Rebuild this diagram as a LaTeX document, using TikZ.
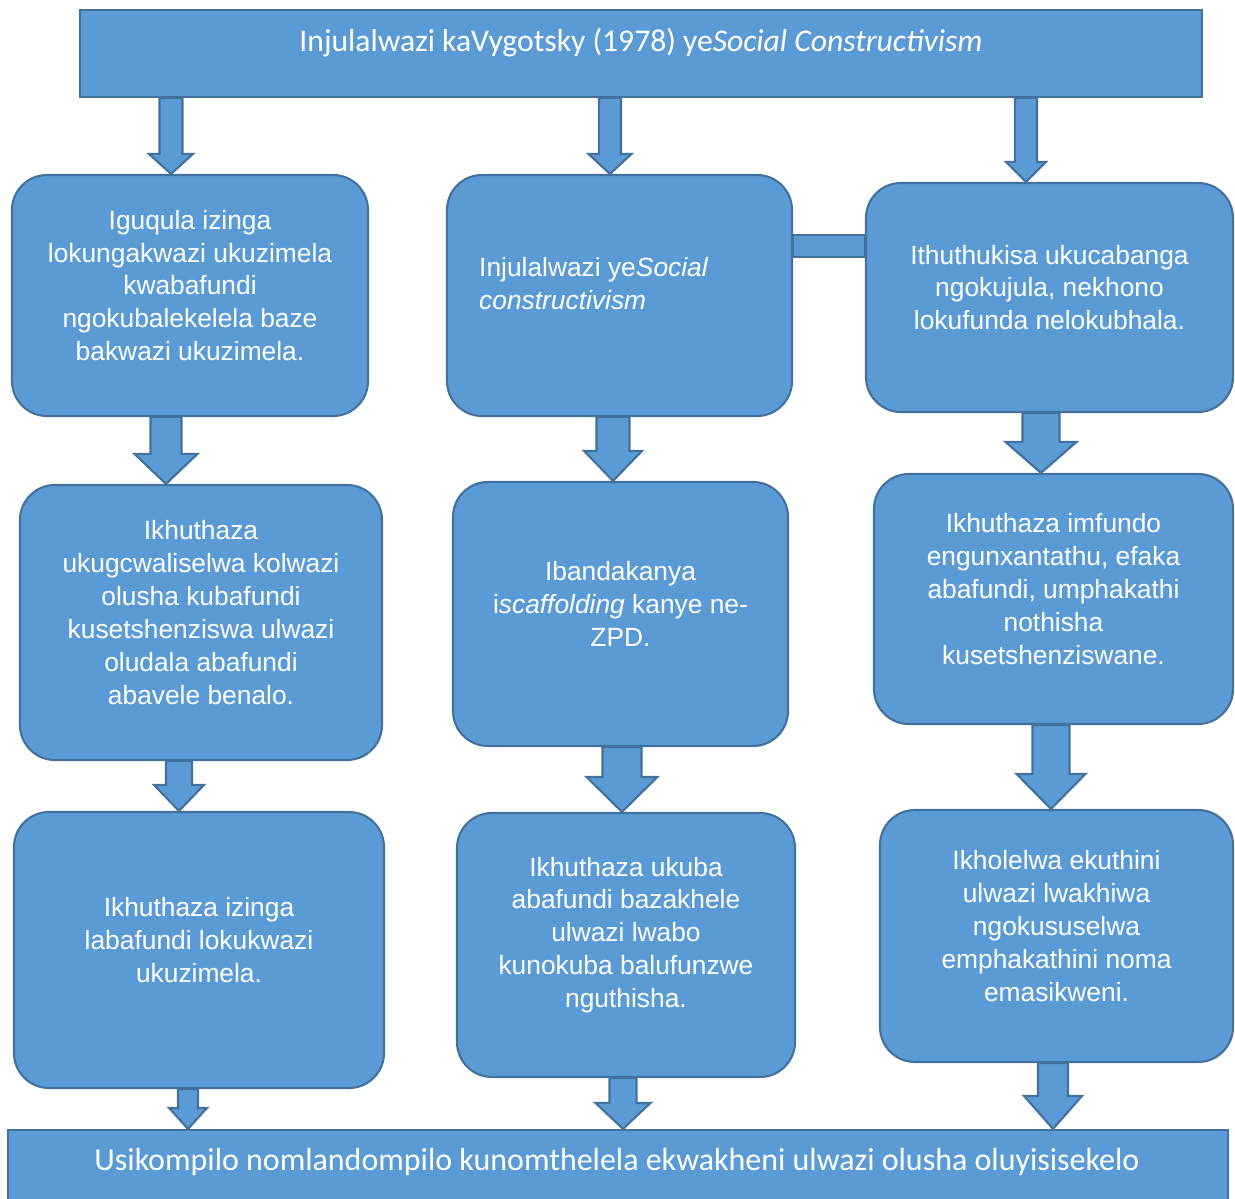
\documentclass[tikz,border=0pt]{standalone}
\usepackage{fontspec}
\setmainfont{Liberation Sans}
\newfontfamily\calibri{Carlito}
\usetikzlibrary{calc,fit}
\definecolor{boxfill}{HTML}{5B9BD5}
\definecolor{boxline}{HTML}{41719C}

% block arrow: x, from node, to node, half shaft, half head, head length
\newcommand{\blockarrow}[6]{%
  \path (#1,0) coordinate (bax);
  \draw[plainbox]
    ($(bax |- #2.south)+(-#4,0)$) -- ($(bax |- #3.north)+(-#4,-#6)$)
    -- ($(bax |- #3.north)+(-#5,-#6)$) -- (bax |- #3.north)
    -- ($(bax |- #3.north)+(#5,-#6)$) -- ($(bax |- #3.north)+(#4,-#6)$)
    -- ($(bax |- #2.south)+(#4,0)$) -- cycle;}

\begin{document}
\begin{tikzpicture}[x=0.02cm, y=-0.02cm,
    plainbox/.style={draw=boxline, fill=boxfill, line width=1.2pt, inner sep=0pt},
    roundbox/.style={plainbox, rounded corners=0.7cm},
    boxtext/.style={text=white, align=center, font=\fontsize{15pt}{18.7pt}\selectfont},
    titletext/.style={text=white, font=\calibri\fontsize{18pt}{22pt}\selectfont}]
    \useasboundingbox (0,0) rectangle (1235,1199);
    % title and conclusion
    \node[plainbox, fit={(80,10) (1202,97)}] (title) {};
    \node[titletext] (t-title) at ($(title.center)+(0,-11)$) {Injulalwazi kaVygotsky (1978) ye\textit{Social Constructivism}};
    \node[plainbox, fit={(8,1130) (1228,1205)}] (conc) {};
    \node[titletext, font=\calibri\fontsize{18.2pt}{22pt}\selectfont] (t-conc) at (617,1162) {Usikompilo nomlandompilo kunomthelela ekwakheni ulwazi olusha oluyisisekelo};
    % left column
    \node[roundbox, fit={(12,175) (368,416)}] (left1) {};
    \node[roundbox, fit={(20,485) (382,760)}] (left2) {};
    \node[roundbox, fit={(14,812) (384,1088)}] (left3) {};
    \node[boxtext] (t-left1) at ($(left1.center)+(0,-10)$) {Iguqula izinga\\lokungakwazi ukuzimela\\kwabafundi\\ngokubalekelela baze\\bakwazi ukuzimela.};
    \node[boxtext] (t-left2) at ($(left2.center)+(0,-10)$) {Ikhuthaza\\ukugcwaliselwa kolwazi\\olusha kubafundi\\kusetshenziswa ulwazi\\oludala abafundi\\abavele benalo.};
    \node[boxtext] (t-left3) at ($(left3.center)+(0,-10)$) {Ikhuthaza izinga\\labafundi lokukwazi\\ukuzimela.};
    % middle column
    \node[roundbox, fit={(447,175) (792,416)}] (mid1) {};
    \node[roundbox, fit={(453,482) (788,746)}] (mid2) {};
    \node[roundbox, fit={(457,813) (795,1077)}] (mid3) {};
    \node[boxtext, align=left, anchor=west] (t-mid1) at (473,284) {Injulalwazi ye\textit{Social}\\\textit{constructivism}};
    \node[boxtext] (t-mid2) at ($(mid2.center)+(0,-10)$) {Ibandakanya\\i\textit{scaffolding} kanye ne-\\ZPD.};
    \node[boxtext] (t-mid3) at ($(mid3.center)+(0,-10)$) {Ikhuthaza ukuba\\abafundi bazakhele\\ulwazi lwabo\\kunokuba balufunzwe\\nguthisha.};
    % right column
    \node[roundbox, fit={(866,183) (1233,412)}] (right1) {};
    \node[roundbox, fit={(874,474) (1233,724)}] (right2) {};
    \node[roundbox, fit={(880,810) (1233,1062)}] (right3) {};
    \node[boxtext] (t-right1) at ($(right1.center)+(0,-10)$) {Ithuthukisa ukucabanga\\ngokujula, nekhono\\lokufunda nelokubhala.};
    \node[boxtext] (t-right2) at ($(right2.center)+(0,-10)$) {Ikhuthaza imfundo\\engunxantathu, efaka\\abafundi, umphakathi\\nothisha\\kusetshenziswane.};
    \node[boxtext] (t-right3) at ($(right3.center)+(0,-10)$) {Ikholelwa ekuthini\\ulwazi lwakhiwa\\ngokususelwa\\emphakathini noma\\emasikweni.};
    % bar between mid1 and right1
    \path (0,235) coordinate (barA) (0,257) coordinate (barB);
    \draw[plainbox] (mid1.east |- barA) rectangle (right1.west |- barB);
    % arrows
    \blockarrow{171}{title}{left1}{11.5}{22}{20}
    \blockarrow{610}{title}{mid1}{11}{21.5}{20}
    \blockarrow{1026}{title}{right1}{11}{20}{20}
    \blockarrow{166}{left1}{left2}{15.5}{31.5}{30}
    \blockarrow{613}{mid1}{mid2}{16.5}{29}{30}
    \blockarrow{1041}{right1}{right2}{18.5}{35.5}{31}
    \blockarrow{179}{left2}{left3}{13}{25}{26}
    \blockarrow{622}{mid2}{mid3}{19.5}{35.5}{35}
    \blockarrow{1051}{right2}{right3}{18.5}{34.5}{35}
    \blockarrow{188}{left3}{conc}{10}{19}{21}
    \blockarrow{623}{mid3}{conc}{13.5}{27.5}{26}
    \blockarrow{1053}{right3}{conc}{15}{29}{33}
\end{tikzpicture}
\end{document}
